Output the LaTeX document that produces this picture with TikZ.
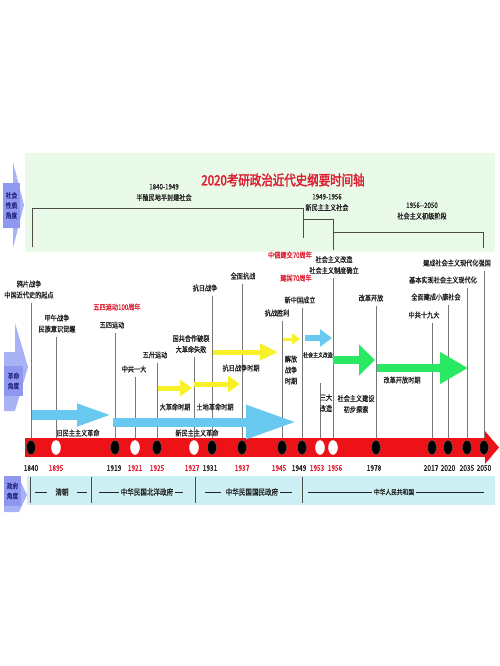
\documentclass[tikz,border=0pt]{standalone}
\usepackage{fontspec}
\usepackage{xcolor}
\usetikzlibrary{arrows.meta, positioning, shapes.geometric, backgrounds}
\newfontfamily\cjk[FakeStretch=0.82,FakeBold=1]{Noto Sans CJK SC}
\newfontfamily\cjkB[FakeStretch=0.82,FakeBold=2.5]{Noto Sans CJK SC}
\definecolor{bgGreen}  {RGB}{234,250,232}
\definecolor{tlRed}    {RGB}{236,18,24}
\definecolor{lblRed}   {RGB}{222,30,50}
\definecolor{skyBlue}  {RGB}{104,200,240}
\definecolor{yArrow}   {RGB}{248,240,40}
\definecolor{gArrow}   {RGB}{40,232,100}
\definecolor{govCyan}  {RGB}{205,240,244}
\definecolor{lav}      {RGB}{170,178,246}
\definecolor{lavDk}    {RGB}{142,152,238}
\definecolor{sideTxt}  {RGB}{40,40,130}
\definecolor{txtGray}  {RGB}{35,35,35}
\definecolor{lnGray}   {RGB}{120,120,120}

\begin{document}
\begin{tikzpicture}[x=1pt, y=-1pt,
    lbl/.style={font=\cjk\fontsize{7.5}{11}\selectfont, text=txtGray, inner sep=1pt, align=center},
    rlbl/.style={lbl, text=lblRed},
    yr/.style={font=\cjk\fontsize{8}{9}\selectfont, text=txtGray, inner sep=0pt},
    ryr/.style={yr, text=lblRed},
    gov/.style={font=\cjk\fontsize{8}{9}\selectfont, text=txtGray, inner sep=2pt},
    side/.style={fill=lavDk, font=\cjk\fontsize{7}{10}\selectfont, text=sideTxt, inner sep=0pt, align=center},
    dotB/.style={ellipse, minimum width=9pt, minimum height=14pt, inner sep=0pt, fill=black, draw=black!60},
    dotW/.style={dotB, fill=white, draw=white},
    vline/.style={lnGray, line width=0.6pt, shorten <=3pt},
    brk/.style={black!70, line width=0.6pt},
    govln/.style={txtGray, line width=0.6pt},
    bluArr/.style={skyBlue, line width=10pt, -{Triangle[length=36pt,width=20pt]}},
    yelArr/.style={yArrow, line width=5pt, -{Triangle[length=12pt,width=16pt]}},
    grnArr/.style={gArrow, line width=8pt, -{Triangle[length=16pt,width=30pt]}}]
    \useasboundingbox (0,0) rectangle (500,666);

    % society band
    \fill[bgGreen] (25,153) rectangle (495,252);
    \node[font=\cjkB\fontsize{14}{16}\selectfont, text=lblRed] (title) at (283,180) {2020考研政治近代史纲要时间轴};
    \draw[brk] (32,247) -- (32,208) -- (303,208) -- (303,238);
    \draw[brk] (303,219) -- (333,219) -- (333,250);
    \draw[brk] (333,232) -- (483,232) -- (483,248);
    \node[lbl] (semiCol) at (164,192.5) {1840-1949\\半殖民地半封建社会};
    \node[lbl] (newDem) at (327,202.5) {1949-1956\\新民主主义社会};
    \node[lbl] (primary) at (422,211) {1956-{}-2050\\社会主义初级阶段};

    % side tags
    \fill[lav] (3,183) -- (13,183) -- (13,162) -- (24,205) -- (13,248) -- (13,228) -- (3,228) -- cycle;
    \node[side, minimum width=17pt, minimum height=45pt] (socSide) at (11.5,205.5) {社会\\性质\\角度};
    \fill[lav] (4,352) -- (15,352) -- (15,323) -- (28,367) -- (15,411) -- (4,411) -- cycle;
    \node[side, minimum width=19pt, minimum height=30pt] (revSide) at (13.5,381) {革命\\角度};
    \fill[lav] (4,478) -- (19,478) -- (27,495) -- (19,512) -- (4,512) -- cycle;
    \node[side, minimum width=17pt, minimum height=30pt] (govSide) at (12.5,491) {政府\\角度};

    % timeline
    \draw[tlRed, line width=19pt, -{Triangle[length=14pt,width=32pt]}] (25,447.5) -- (499,447.5);

    % period arrows
    \draw[bluArr] (32,415) -- (113,415);
    \draw[bluArr, line width=9pt, -{Triangle[length=50pt,width=32pt]}] (113,422) -- (296,422);
    \draw[yelArr] (158,388) -- (192,388);
    \draw[yelArr] (194,384) -- (240,384);
    \draw[yelArr, -{Triangle[length=18pt,width=16pt]}] (213,352) -- (278,352);
    \draw[yelArr, line width=3pt, -{Triangle[length=8pt,width=11pt]}] (283,339) -- (300,339);
    \draw[bluArr, line width=6pt, -{Triangle[length=12pt,width=17pt]}] (305,338) -- (332,338);
    \draw[grnArr] (333,360) -- (375,360);
    \draw[grnArr, -{Triangle[length=28pt,width=30pt]}] (377,368) -- (468,368);

    % dots
    \node[dotB] (d1840) at (31,447.5) {};  \node[dotW] (d1895) at (56,447.5) {};
    \node[dotB] (d1919) at (115,447.5) {}; \node[dotW] (d1921) at (135,447.5) {};
    \node[dotB] (d1925) at (157,447.5) {}; \node[dotW] (d1927) at (194,447.5) {};
    \node[dotB] (d1931) at (212,447.5) {}; \node[dotB] (d1937) at (242,447.5) {};
    \node[dotB] (d1945) at (282,447.5) {}; \node[dotB] (d1949) at (302,447.5) {};
    \node[dotW] (d1953) at (320,447.5) {}; \node[dotW] (d1956) at (333,447.5) {};
    \node[dotB] (d1978) at (376,447.5) {}; \node[dotB] (d2017) at (432,447.5) {};
    \node[dotB] (d2020) at (448,447.5) {}; \node[dotB] (d2035) at (467,447.5) {};
    \node[dotB] (d2050) at (484,447.5) {};

    % years
    \node[yr] (y1840) at (31,468) {1840};  \node[ryr] (y1895) at (56,468) {1895};
    \node[yr] (y1919) at (114,468) {1919}; \node[ryr] (y1921) at (135,468) {1921};
    \node[ryr] (y1925) at (157,468) {1925}; \node[ryr] (y1927) at (192,468) {1927};
    \node[yr] (y1931) at (210,468) {1931}; \node[ryr] (y1937) at (242,468) {1937};
    \node[ryr] (y1945) at (279,468) {1945}; \node[yr] (y1949) at (299,468) {1949};
    \node[ryr] (y1953) at (317,468) {1953}; \node[ryr] (y1956) at (335,468) {1956};
    \node[yr] (y1978) at (374,468) {1978}; \node[yr] (y2017) at (431,468) {2017};
    \node[yr] (y2020) at (448,468) {2020}; \node[yr] (y2035) at (467,468) {2035};
    \node[yr] (y2050) at (484,468) {2050};

    % events
    \node[lbl] (opium) at (29,289.5) {鸦片战争\\中国近代史的起点};
    \node[lbl] (jiawu) at (57,323.5) {甲午战争\\民族意识觉醒};
    \node[rlbl] (may100) at (117,307) {五四运动100周年};
    \node[lbl] (may4) at (112,325) {五四运动};
    \node[lbl] (cpc1) at (134,369) {中共一大};
    \node[lbl] (may30) at (155,355) {五卅运动};
    \node[lbl] (split) at (191,344) {国共合作破裂\\大革命失败};
    \node[lbl] (antiJp) at (205,288) {抗日战争};
    \node[lbl] (fullWar) at (243,276) {全面抗战};
    \node[lbl] (victory) at (277,313) {抗战胜利};
    \node[rlbl] (sinoRu70) at (290,255) {中俄建交70周年};
    \node[rlbl] (prc70) at (296,278) {建国70周年};
    \node[lbl] (prcFound) at (300,300) {新中国成立};
    \node[lbl] (socReform) at (334,265) {社会主义改造\\社会主义制度确立};
    \node[lbl] (opening) at (371,298) {改革开放};
    \node[lbl] (cpc19) at (424,315) {中共十九大};
    \node[lbl] (xiaokang) at (436,297) {全面建成小康社会};
    \node[lbl] (modern) at (443,280) {基本实现社会主义现代化};
    \node[lbl] (strong) at (457,263) {建成社会主义现代化强国};

    % periods
    \node[lbl] (oldRev) at (78,433) {旧民主主义革命};
    \node[lbl] (newRev) at (197,433) {新民主主义革命};
    \node[lbl] (bigRev) at (175,407) {大革命时期};
    \node[lbl] (landRev) at (215,407) {土地革命时期};
    \node[lbl] (warPer) at (241,368) {抗日战争时期};
    \node[lbl] (libWar) at (291,370) {解放\\战争\\时期};
    \node[lbl, font=\cjk\fontsize{6}{7}\selectfont] (socTr) at (318,355) {社会主义改造};
    \node[lbl] (threeTr) at (326,403) {三大\\改造};
    \node[lbl] (socBuild) at (356,404) {社会主义建设\\初步探索};
    \node[lbl] (openPer) at (402,380) {改革开放时期};

    % government band
    \fill[govCyan] (27,476) rectangle (495,505);
    \draw[brk] (30,477) -- (30,503); \draw[brk] (91,477) -- (91,503);
    \draw[brk] (195,477) -- (195,503); \draw[brk] (302,477) -- (302,503);
    \node[gov] (qing) at (62,492) {清朝};
    \node[gov] (beiyang) at (147,492) {中华民国北洋政府};
    \node[gov] (nanjing) at (252,492) {中华民国国民政府};
    \node[gov, font=\cjk\fontsize{7}{8}\selectfont] (prcGov) at (394,492) {中华人民共和国};
    \draw[govln] (qing.west) ++(-6,0) -- ++(-12,0); \draw[govln] (qing.east) ++(6,0) -- ++(10,0);
    \draw[govln] (beiyang.west) -- ++(-20,0); \draw[govln] (beiyang.east) -- ++(8,0);
    \draw[govln] (nanjing.west) ++(-3,0) -- ++(-16,0); \draw[govln] (nanjing.east) -- ++(12,0);
    \draw[govln] (prcGov.west) -- ++(-64,0); \draw[govln] (prcGov.east) -- ++(68,0);

    % drop lines
    \coordinate (top1953) at (320,380);
    \begin{scope}[on background layer]
        \draw[vline] (opium.south -| d1840) -- (d1840);
        \draw[vline] (jiawu.south -| d1895) -- (d1895);
        \draw[vline] (may4.south -| d1919) -- (d1919);
        \draw[vline] (cpc1.south -| d1921) -- (d1921);
        \draw[vline] (may30.south -| d1925) -- (d1925);
        \draw[vline] (split.south -| d1927) -- (d1927);
        \draw[vline] (antiJp.south -| d1931) -- (d1931);
        \draw[vline] (fullWar.south -| d1937) -- (d1937);
        \draw[vline] (victory.south -| d1945) -- (d1945);
        \draw[vline] (prcFound.south -| d1949) -- (d1949);
        \draw[vline] (top1953) -- (d1953);
        \draw[vline] (socReform.south -| d1956) -- (d1956);
        \draw[vline] (opening.south -| d1978) -- (d1978);
        \draw[vline] (cpc19.south -| d2017) -- (d2017);
        \draw[vline] (xiaokang.south -| d2020) -- (d2020);
        \draw[vline] (modern.south -| d2035) -- (d2035);
        \draw[vline] (strong.south -| d2050) -- (d2050);
    \end{scope}
\end{tikzpicture}
\end{document}
